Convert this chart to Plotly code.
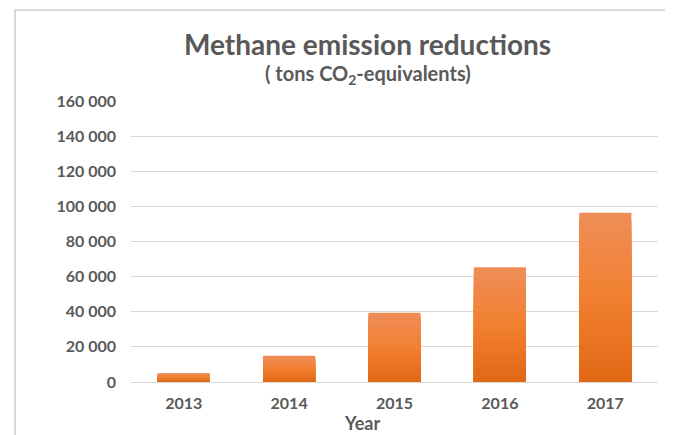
import plotly.graph_objects as go

years = ["2013", "2014", "2015", "2016", "2017"]
reductions = [5000, 15000, 39500, 65300, 96400]
y_ticks = [0, 20000, 40000, 60000, 80000, 100000, 120000, 140000, 160000]
y_tick_labels = ["0", "20 000", "40 000", "60 000", "80 000", "100 000", "120 000", "140 000", "160 000"]

FONT = "Lato"
GRAY = "#595959"
OFF = 8  # page body margin in the browser

fig = go.Figure()

# gradient imitation: overlay bars of decreasing height, lighter on top
TOP, MID, BOT = (0xEF, 0x8D, 0x57), (0xF2, 0x80, 0x30), (0xE1, 0x69, 0x16)


def mix(a, b, t):
    return "#%02X%02X%02X" % tuple(round(a[k] + (b[k] - a[k]) * t) for k in range(3))


n = 24
for i in range(n):
    t = i / (n - 1)
    c = mix(TOP, MID, t / 0.5) if t < 0.5 else mix(MID, BOT, (t - 0.5) / 0.5)
    frac = 1 - i / n
    fig.add_trace(go.Bar(
        x=years, y=[v * frac for v in reductions],
        marker=dict(color=c, line=dict(width=0)),
        hoverinfo="skip" if i else None,
        showlegend=False,
    ))

W, H = 673 - OFF, 435 - OFF
PL, PR, PT, PB = 131, 658, 101, 382  # plot area in reference pixels
PW, PH = PR - PL, PB - PT


def px(x):
    return (x - PL) / PW


def py(y):
    return (PB - y) / PH


fig.update_layout(
    width=W, height=H,
    margin=dict(l=PL - OFF, r=W - (PR - OFF), t=PT - OFF, b=H - (PB - OFF)),
    paper_bgcolor="white", plot_bgcolor="white",
    barmode="overlay", bargap=0.505,
    font=dict(family=FONT, color=GRAY),
    showlegend=False,
    xaxis=dict(
        type="category",
        showgrid=False, zeroline=False,
        showline=True, linecolor="#d9d9d9", linewidth=1,
        ticks="", tickfont=dict(size=16, color=GRAY, family=FONT, weight="bold"),
        ticklabelstandoff=7,
    ),
    yaxis=dict(
        range=[0, 160000],
        tickvals=y_ticks, ticktext=y_tick_labels,
        showgrid=True, gridcolor="#d9d9d9", gridwidth=1,
        zeroline=False, showline=False, ticks="",
        tickfont=dict(size=16, color=GRAY, family=FONT, weight="bold"),
        ticklabelstandoff=14,
    ),
    annotations=[
        dict(text="<b>Methane emission reductions</b>", xref="paper", yref="paper",
             x=px(367), y=py(44), xanchor="center", yanchor="middle",
             showarrow=False, font=dict(size=28, color=GRAY, family=FONT)),
        dict(text="<b>( tons CO<sub>2</sub>-equivalents)</b>", xref="paper", yref="paper",
             x=px(368), y=py(74), xanchor="center", yanchor="middle",
             showarrow=False, font=dict(size=20, color=GRAY, family=FONT)),
        dict(text="<b>Year</b>", xref="paper", yref="paper",
             x=px(362), y=py(423), xanchor="center", yanchor="middle",
             showarrow=False, font=dict(size=18, color=GRAY, family=FONT)),
    ],
    shapes=[
        dict(type="rect", xref="paper", yref="paper",
             x0=px(15), x1=px(700), y0=py(460), y1=py(10),
             line=dict(color="#d9d9d9", width=2), fillcolor="rgba(0,0,0,0)", layer="below"),
    ],
)

fig.write_html("out.html")
